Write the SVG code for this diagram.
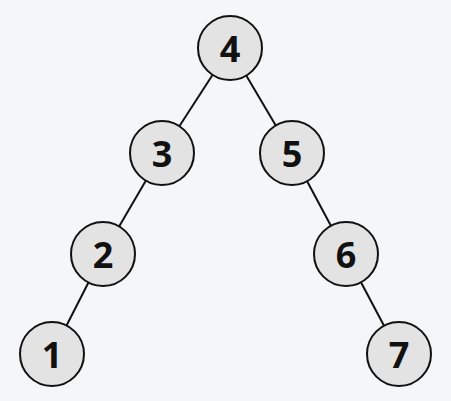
<svg xmlns="http://www.w3.org/2000/svg" width="451" height="401" viewBox="0 0 451 401">
<style>
.n circle{fill:#e2e3e2;stroke:#111;stroke-width:2}
.n text{font-family:"Noto Sans","DejaVu Sans",sans-serif;font-weight:700;font-size:36px;fill:#111;text-anchor:middle;dominant-baseline:central}
.e line{stroke:#111;stroke-width:2}
</style>
<rect width="451" height="401" fill="#f5f6f7"/>
<g class="e" id="edges">
<line x1="230" y1="48" x2="162" y2="153"/>
<line x1="230" y1="48" x2="292" y2="153"/>
<line x1="162" y1="153" x2="103" y2="254"/>
<line x1="292" y1="153" x2="346" y2="254"/>
<line x1="103" y1="254" x2="52" y2="354"/>
<line x1="346" y1="254" x2="399" y2="354"/>
</g>
<g class="n" id="n4"><circle cx="230" cy="48" r="32"/><text x="230" y="48">4</text></g>
<g class="n" id="n3"><circle cx="162" cy="153" r="32"/><text x="162" y="153">3</text></g>
<g class="n" id="n5"><circle cx="292" cy="153" r="32"/><text x="292" y="153">5</text></g>
<g class="n" id="n2"><circle cx="103" cy="254" r="32"/><text x="103" y="254">2</text></g>
<g class="n" id="n6"><circle cx="346" cy="254" r="32"/><text x="346" y="254">6</text></g>
<g class="n" id="n1"><circle cx="52" cy="354" r="32"/><text x="52" y="354">1</text></g>
<g class="n" id="n7"><circle cx="399" cy="354" r="32"/><text x="399" y="354">7</text></g>
</svg>
